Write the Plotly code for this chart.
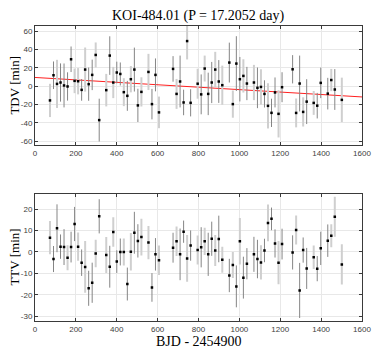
import plotly.graph_objects as go
from plotly.subplots import make_subplots

# transit times, BJD - 2454900
bjd = [73.3, 90.5, 107.7, 124.9, 142.1, 159.3, 176.5, 193.7, 210.9, 228.2,
       245.4, 262.6, 279.8, 297.0, 314.2, 348.6, 365.8, 383.0, 400.2, 417.4,
       434.6, 451.8, 469.0, 486.2, 503.4, 520.6, 555.1, 572.3, 589.5, 606.7,
       675.5, 692.7, 709.9, 727.1, 744.3, 761.5, 795.9, 813.1, 830.3, 847.5,
       864.7, 881.9, 899.2, 916.4, 950.8, 968.0, 985.2, 1002.4, 1019.6, 1036.8,
       1071.2, 1088.4, 1105.6, 1122.8, 1140.0, 1157.2, 1174.4, 1191.6, 1208.8, 1260.5,
       1277.7, 1294.9, 1312.1, 1329.3, 1363.7, 1380.9, 1398.1, 1432.5, 1449.7, 1466.9,
       1501.3]

tdv = [-15.5, 11.9, 2.5, 4.0, 0.8, -0.3, 29.3, 5.8, 5.4, -4.0,
       18.1, 2.2, 12.3, 34.0, -36.9, -4.3, 33.3, 4.0, 14.9, 13.3,
       -6.5, -10.5, 7.6, 18.1, -20.9, -6.2, 15.5, -19.5, 12.3, -28.5,
       18.8, -8.4, 5.1, -17.7, 49.1, -18.1, 2.7, -8.9, 19.2, -8.4,
       4.0, 18.1, 5.1, 1.1, 25.7, -19.5, 24.6, 7.6, 11.2, 2.9,
       4.0, -1.8, -0.8, -8.4, -21.4, -29.0, -6.8, -30.1, -1.1, 18.4,
       -29.1, 2.9, -28.0, -16.8, -18.2, -21.2, 3.6, -8.1, 6.7, -3.6,
       -14.9]
tdv_err = [18.1, 15.0, 26.2, 20.8, 23.9, 15.4, 13.9, 13.4, 14.3, 11.8,
           24.0, 18.1, 16.6, 13.6, 23.3, 17.7, 21.0, 17.0, 11.8, 12.5,
           15.2, 16.3, 14.3, 23.9, 18.1, 15.9, 19.7, 16.6, 17.9, 17.2,
           13.9, 16.3, 28.2, 13.9, 20.0, 14.8, 16.3, 21.7, 14.1, 23.1,
           22.4, 19.3, 23.3, 21.3, 21.7, 14.8, 29.8, 24.2, 18.1, 18.1,
           19.2, 22.1, 19.2, 14.8, 24.6, 15.4, 16.3, 25.7, 16.3, 15.4,
           15.7, 30.4, 15.9, 24.4, 13.0, 13.9, 16.6, 17.2, 12.1, 22.2,
           24.2]

ttv = [6.7, -3.3, 11.1, 2.5, 2.3, -2.7, 2.3, 13.1, 2.5, -5.0,
       -7.0, -17.0, -14.4, -0.7, 16.7, -1.4, -6.9, 9.4, -4.5, 0.0,
       0.0, -15.0, 0.1, 9.0, 5.2, 7.0, 4.4, -16.6, -1.1, -3.9,
       2.0, 5.0, -1.1, 9.5, -3.0, 3.0, 0.9, 2.2, 5.0, -1.1,
       6.2, 0.7, 6.1, -3.6, -11.0, -6.1, -16.1, 5.0, -12.0, -5.5,
       -1.1, -3.3, -4.9, 0.7, 13.6, 15.5, 4.0, -5.0, 3.7, -0.2,
       10.3, -18.0, 0.9, -7.7, -2.5, -7.8, 1.7, 5.3, 7.6, 16.5,
       -5.8]
ttv_err = [7.8, 6.1, 11.2, 5.7, 8.4, 5.8, 7.2, 8.0, 6.6, 6.2,
           12.1, 8.2, 9.4, 6.4, 8.0, 8.4, 9.8, 6.9, 5.3, 6.3,
           6.3, 7.7, 8.8, 9.8, 7.8, 8.6, 7.8, 6.7, 7.6, 6.9,
           7.0, 6.9, 12.1, 5.2, 10.9, 7.1, 6.8, 9.4, 6.4, 10.1,
           8.0, 7.2, 10.9, 6.1, 7.8, 6.1, 9.8, 10.9, 9.8, 7.3,
           8.2, 9.0, 8.0, 5.5, 8.6, 5.3, 6.6, 10.1, 7.2, 8.0,
           6.8, 12.9, 5.9, 9.6, 5.5, 5.9, 7.8, 7.6, 5.4, 9.4,
           9.4]

# 1 = light grey error bar, 0 = dark grey
tdv_light = [1, 0, 1, 0, 0, 0, 0, 1, 1, 0, 1, 0, 0, 1, 0, 1, 0, 1, 0, 0,
             1, 0, 1, 0, 0, 1, 1, 0, 0, 1, 0, 1, 0, 0, 1, 0, 1, 0, 1, 0,
             0, 1, 0, 1, 0, 1, 0, 0, 1, 0, 1, 0, 1, 0, 1, 0, 0, 1, 0, 0,
             1, 0, 1, 0, 1, 0, 0, 0, 1, 0, 1]
ttv_light = [1, 0, 0, 0, 0, 1, 0, 0, 1, 0, 1, 0, 0, 1, 0, 1, 0, 1, 0, 0,
             1, 0, 1, 0, 0, 1, 1, 0, 0, 1, 0, 1, 0, 0, 1, 0, 1, 0, 1, 0,
             0, 1, 0, 1, 0, 1, 0, 1, 0, 0, 0, 0, 1, 0, 1, 0, 0, 1, 0, 0,
             1, 0, 0, 0, 1, 0, 0, 0, 1, 1, 1]

# linear trend in TDV
trend_x = [0, 1600]
trend_y = [9.5, -11.7]

LIGHT = '#cfcfcf'
DARK = '#858585'
SERIF = 'Liberation Serif'
SANS = 'Liberation Sans'

fig = make_subplots(rows=2, cols=1, vertical_spacing=0.167)


def add_points(vals, errs, flags, row):
    for flag, col, thick in [(1, LIGHT, 2), (0, DARK, 1)]:
        idx = [i for i, f in enumerate(flags) if f == flag]
        fig.add_trace(go.Scatter(
            x=[bjd[i] for i in idx],
            y=[vals[i] for i in idx],
            mode='markers',
            marker=dict(symbol='square', size=2.5, color='black'),
            error_y=dict(type='data', array=[errs[i] for i in idx],
                         color=col, thickness=thick, width=0),
            showlegend=False,
            hoverinfo='x+y'
        ), row=row, col=1)


fig.add_trace(go.Scatter(
    x=trend_x, y=trend_y, mode='lines',
    line=dict(color='#ff2020', width=1),
    showlegend=False
), row=1, col=1)
add_points(tdv, tdv_err, tdv_light, 1)
add_points(ttv, ttv_err, ttv_light, 2)

axis_style = dict(
    showline=True, mirror='ticks', linecolor='#3a3a3a', linewidth=1,
    ticks='inside', ticklen=3, tickcolor='#3a3a3a',
    showgrid=True, gridcolor='#e8e8e8', gridwidth=1, zeroline=False,
    tickfont=dict(family=SANS, size=8, color='#404040'),
    ticklabeloverflow='allow',
)

xt = [0, 200, 400, 600, 800, 1000, 1200, 1400, 1600]
for r in (1, 2):
    fig.update_xaxes(range=[0, 1600], tickvals=xt, ticktext=[str(v) for v in xt],
                     row=r, col=1, **axis_style)

y1 = [-60, -40, -20, 0, 20, 40, 60]
y2 = [-30, -20, -10, 0, 10, 20]
fig.update_yaxes(range=[-64, 65.5], tickvals=y1, ticktext=[str(v) for v in y1],
                 row=1, col=1, **axis_style)
fig.update_yaxes(range=[-32.3, 27], tickvals=y2, ticktext=[str(v) for v in y2],
                 row=2, col=1, **axis_style)

# the page body has an 8px margin, so the figure is sized to end at the window edge
fig.update_layout(
    width=374, height=342,
    margin=dict(l=27, r=11, t=18, b=29),
    plot_bgcolor='white', paper_bgcolor='white',
    yaxis=dict(domain=[0.5966, 1.0]),
    yaxis2=dict(domain=[0.0, 0.4295]),
    annotations=[
        dict(text='KOI-484.01 (P = 17.2052 day)', xref='paper', yref='paper',
             x=0.5, y=1.0, yanchor='middle', yshift=10, showarrow=False,
             font=dict(family=SERIF, size=14, color='black')),
        dict(text='TDV [min]', xref='paper', yref='paper', x=0, xanchor='center',
             xshift=-20, y=0.798, yanchor='middle', textangle=-90, showarrow=False,
             font=dict(family=SERIF, size=13, color='black')),
        dict(text='TTV [min]', xref='paper', yref='paper', x=0, xanchor='center',
             xshift=-20, y=0.215, yanchor='middle', textangle=-90, showarrow=False,
             font=dict(family=SERIF, size=13, color='black')),
        dict(text='BJD - 2454900', xref='paper', yref='paper', x=0.5,
             y=0, yanchor='middle', yshift=-20, showarrow=False,
             font=dict(family=SERIF, size=14, color='black')),
    ],
)

fig.write_html("out.html")
